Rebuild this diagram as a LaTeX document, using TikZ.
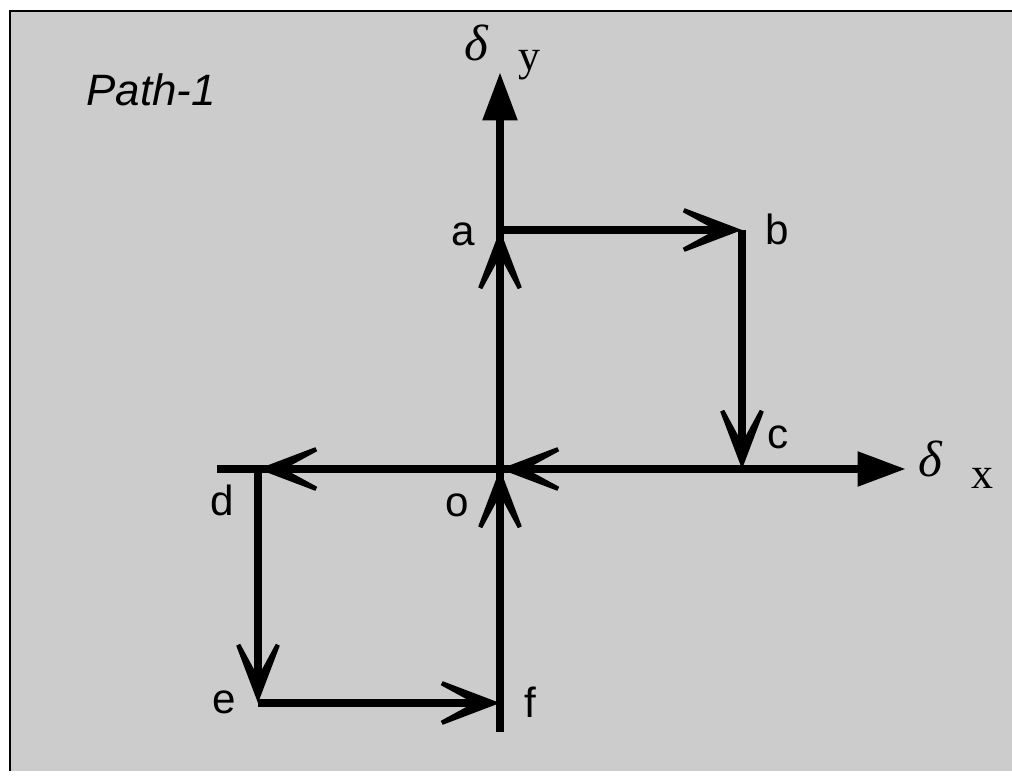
\documentclass[tikz,border=0pt]{standalone}
\usepackage{fontspec}
\setmainfont{Liberation Sans}
\newfontfamily\pthserif{Liberation Serif}
\usetikzlibrary{arrows.meta}
\definecolor{pthpaper}{gray}{0.80}
\definecolor{pthink}{gray}{0.0}
\tikzset{
  pthaxis/.style ={draw=pthink, line width=4pt, -{Triangle[length=27pt,width=20pt,line width=1pt]}},
  pthstep/.style ={draw=pthink, line width=4pt, -{Stealth[length=50pt,width=38pt,inset=35pt,line width=2.5pt]}},
  pthlbl/.style  ={inner sep=0pt, text=pthink, font=\fontsize{24}{28}\selectfont},
  pthgreek/.style={inner sep=0pt, text=pthink, font=\pthserif\itshape\fontsize{29}{32}\selectfont},
  pthvar/.style  ={inner sep=0pt, text=pthink, font=\pthserif\fontsize{25}{28}\selectfont},
  pthtitle/.style={inner sep=0pt, text=pthink, font=\itshape\fontsize{25}{28}\selectfont},
}
\begin{document}
\begin{tikzpicture}[x=0.02cm, y=-0.02cm]
  \useasboundingbox (0,0) rectangle (1012,777);
  \fill[pthpaper] (10,11) rectangle (1012,771);
  \draw[line width=1.2pt] (10,771) |- (1012,11);
  % corner points of the path
  \coordinate (o) at (500,469);
  \coordinate (a) at (500,230);
  \coordinate (b) at (742,230);
  \coordinate (c) at (742,469);
  \coordinate (d) at (258,469);
  \coordinate (e) at (258,703);
  \coordinate (f) at (500,703);
  \coordinate (xlo) at (217,469);
  \coordinate (xhi) at (905,469);
  \coordinate (ylo) at (500,732);
  \coordinate (yhi) at (500,73);
  % axes
  \draw[pthaxis] (xlo) -- (xhi);
  \draw[pthaxis] (ylo) -- (yhi);
  % path steps
  \draw[pthstep] (o) -- (a);
  \draw[pthstep] (a) -- (b);
  \draw[pthstep] (b) -- (c);
  \draw[pthstep] (c) -- (o);
  \draw[pthstep] (o) -- (d);
  \draw[pthstep] (d) -- (e);
  \draw[pthstep] (e) -- (f);
  \draw[pthstep] (f) -- (o);
  % labels
  \node[pthtitle] (title) at (151,90) {Path-1};
  \node[pthgreek] (dy) at (476,43) {δ};
  \node[pthvar] (vy) at (529,65) {y};
  \node[pthgreek] (dx) at (930,459) {δ};
  \node[pthvar] (vx) at (982,478) {x};
  \node[pthlbl] (la) at (463,234) {a};
  \node[pthlbl] (lb) at (777,229) {b};
  \node[pthlbl] (lc) at (778,437) {c};
  \node[pthlbl] (ld) at (222,500) {d};
  \node[pthlbl] (lo) at (457,505) {o};
  \node[pthlbl] (le) at (224,702) {e};
  \node[pthlbl] (lf) at (530,702) {f};
\end{tikzpicture}
\end{document}
